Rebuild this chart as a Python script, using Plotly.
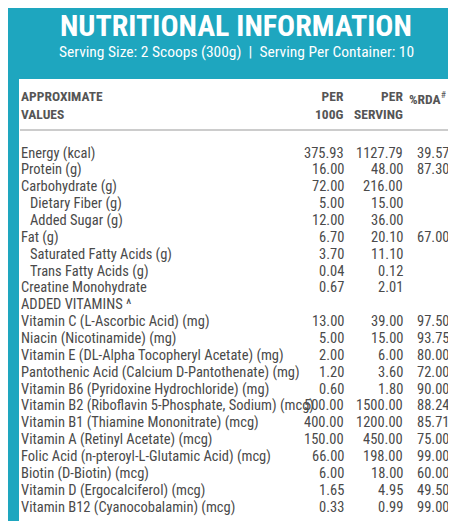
import plotly.graph_objects as go

nutrients = [
    "Energy (kcal)", "Protein (g)", "Carbohydrate (g)", "  Dietary Fiber (g)", "  Added Sugar (g)",
    "Fat (g)", "  Saturated Fatty Acids (g)", "  Trans Fatty Acids (g)", "Creatine Monohydrate",
    "ADDED VITAMINS ^", "Vitamin C (L-Ascorbic Acid) (mg)", "Niacin (Nicotinamide) (mg)",
    "Vitamin E (DL-Alpha Tocopheryl Acetate) (mg)", "Pantothenic Acid (Calcium D-Pantothenate) (mg)",
    "Vitamin B6 (Pyridoxine Hydrochloride) (mg)", "Vitamin B2 (Riboflavin 5-Phosphate, Sodium) (mcg)",
    "Vitamin B1 (Thiamine Mononitrate) (mcg)", "Vitamin A (Retinyl Acetate) (mcg)",
    "Folic Acid (n-pteroyl-L-Glutamic Acid) (mcg)", "Biotin (D-Biotin) (mcg)",
    "Vitamin D (Ergocalciferol) (mcg)", "Vitamin B12 (Cyanocobalamin) (mcg)",
]
per_100g = ["375.93", "16.00", "72.00", "5.00", "12.00", "6.70", "3.70", "0.04", "0.67", "",
            "13.00", "5.00", "2.00", "1.20", "0.60", "500.00", "400.00", "150.00", "66.00", "6.00", "1.65", "0.33"]
per_serving = ["1127.79", "48.00", "216.00", "15.00", "36.00", "20.10", "11.10", "0.12", "2.01", "",
               "39.00", "15.00", "6.00", "3.60", "1.80", "1500.00", "1200.00", "450.00", "198.00", "18.00", "4.95", "0.99"]
rda = ["39.57", "87.30", "", "", "", "67.00", "", "", "", "",
       "97.50", "93.75", "80.00", "72.00", "90.00", "88.24", "85.71", "75.00", "99.00", "60.00", "49.50", "99.00"]

title = "NUTRITIONAL INFORMATION"
subtitle = "Serving Size: 2 Scoops (300g)  |  Serving Per Container: 10"

FONT = "Roboto Condensed, Liberation Sans Narrow, sans-serif"
TXT = "#4a4a4a"
body = dict(family=FONT, size=14.5, color=TXT)

# rows in pixel space
ys = [145 + i * 16.86 for i in range(len(nutrients))]

fig = go.Figure()
for y, name in zip(ys, nutrients):
    x = 20 if name.startswith("  ") else 11
    fig.add_annotation(x=x, y=y, text=name.strip(), xanchor="left", yanchor="middle",
                       font=body, showarrow=False)
for xr, col in [(338, per_100g), (397, per_serving), (443, rda)]:
    for y, v in zip(ys, col):
        if v:
            fig.add_annotation(x=xr, y=y, text=v, xanchor="right", yanchor="middle",
                               font=body, showarrow=False)

# header
hdr = dict(family=FONT, size=13.5, color="#555555")
fig.add_annotation(x=11, y=97, text="<b>APPROXIMATE<br>VALUES</b>", xanchor="left", yanchor="middle",
                   align="left", font=hdr, showarrow=False)
fig.add_annotation(x=338, y=97, text="<b>PER<br>100G</b>", xanchor="right", yanchor="middle",
                   align="right", font=hdr, showarrow=False)
fig.add_annotation(x=397, y=97, text="<b>PER<br>SERVING</b>", xanchor="right", yanchor="middle",
                   align="right", font=hdr, showarrow=False)
fig.add_annotation(x=399, y=90, text="<b>%RDA</b><sup>#</sup>", xanchor="left", yanchor="middle",
                   font=hdr, showarrow=False)

fig.add_annotation(x=228, y=17, text="<b>" + title + "</b>", showarrow=False,
                   font=dict(family=FONT, size=30, color="white"))
fig.add_annotation(x=228, y=44, text=subtitle, showarrow=False,
                   font=dict(family=FONT, size=15.5, color="white"))

fig.add_shape(type="rect", x0=11, x1=446, y0=71, y1=515, fillcolor="white", line=dict(width=0), layer="below")
fig.add_shape(type="line", x0=12, x1=444, y0=122, y1=122, line=dict(color="#cccccc", width=2))

fig.update_xaxes(range=[0, 456], visible=False)
fig.update_yaxes(range=[521, 0], visible=False)
fig.update_layout(width=456, height=521, margin=dict(l=0, r=0, t=0, b=0), showlegend=False,
                  paper_bgcolor="#1ea6bf", plot_bgcolor="#1ea6bf")
fig.write_html("out.html")
